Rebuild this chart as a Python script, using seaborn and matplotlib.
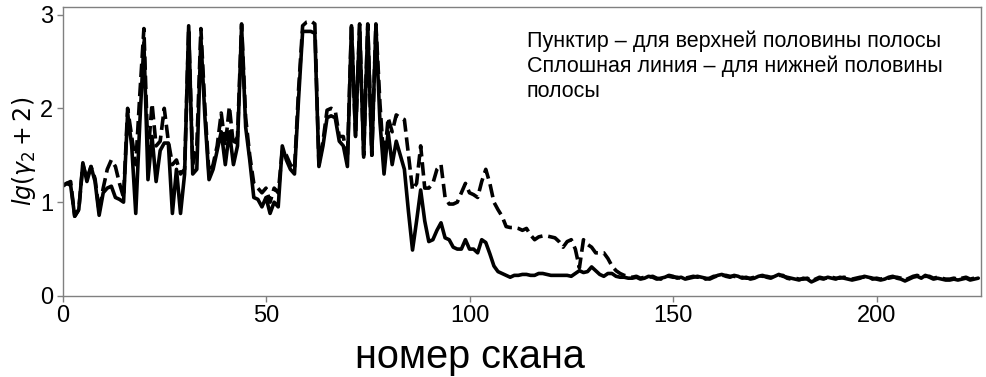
import matplotlib
matplotlib.use("Agg")
import matplotlib.pyplot as plt
import seaborn as sns
import pandas as pd

# lower half of the band (solid line)
lower_half = [
    1.17, 1.20, 1.18, 0.85, 0.92, 1.42, 1.22, 1.38, 1.22, 0.86,
    1.10, 1.15, 1.17, 1.05, 1.03, 1.00, 1.95, 1.60, 0.88, 1.85,
    2.70, 1.24, 1.70, 1.22, 1.55, 1.63, 1.63, 0.88, 1.35, 0.88,
    1.30, 2.88, 1.30, 1.35, 2.75, 1.90, 1.24, 1.35, 1.55, 1.75,
    1.40, 1.75, 1.40, 1.60, 2.88, 1.80, 1.45, 1.05, 1.03, 0.95,
    1.05, 0.88, 1.00, 0.95, 1.60, 1.45, 1.35, 1.30, 2.10, 2.82,
    2.82, 2.82, 2.80, 1.38, 1.60, 1.90, 1.92, 1.90, 1.65, 1.60,
    1.38, 2.88, 1.70, 2.88, 1.48, 2.88, 1.50, 2.88, 1.85, 1.30,
    1.75, 1.40, 1.65, 1.50, 1.35, 0.90, 0.49, 0.80, 1.13, 0.80,
    0.58, 0.60, 0.70, 0.78, 0.62, 0.60, 0.52, 0.50, 0.50, 0.60,
    0.50, 0.50, 0.46, 0.60, 0.57, 0.45, 0.32, 0.26, 0.24, 0.22,
    0.20, 0.22, 0.22, 0.23, 0.23, 0.22, 0.22, 0.24, 0.24, 0.23,
    0.22, 0.22, 0.22, 0.22, 0.22, 0.21, 0.24, 0.27, 0.25, 0.26,
    0.31, 0.27, 0.23, 0.21, 0.24, 0.24, 0.21, 0.20, 0.20, 0.19,
    0.19, 0.20, 0.18, 0.19, 0.21, 0.20, 0.18, 0.19, 0.20, 0.22,
    0.21, 0.19, 0.20, 0.18, 0.19, 0.20, 0.21, 0.20, 0.19, 0.18,
    0.20, 0.22, 0.23, 0.21, 0.20, 0.22, 0.21, 0.19, 0.20, 0.18,
    0.19, 0.21, 0.22, 0.20, 0.19, 0.21, 0.23, 0.21, 0.20, 0.19,
    0.18, 0.17, 0.19, 0.18, 0.15, 0.17, 0.19, 0.18, 0.20, 0.19,
    0.18, 0.20, 0.19, 0.18, 0.17, 0.18, 0.19, 0.21, 0.20, 0.19,
    0.18, 0.17, 0.18, 0.20, 0.21, 0.19, 0.18, 0.16, 0.18, 0.20,
    0.21, 0.19, 0.22, 0.20, 0.18, 0.19, 0.18, 0.17, 0.17, 0.18,
    0.17, 0.18, 0.19, 0.17, 0.18, 0.19,
]

# upper half of the band (dashed line)
upper_half = [
    1.17, 1.20, 1.22, 0.85, 0.92, 1.40, 1.25, 1.38, 1.25, 0.90,
    1.15, 1.35, 1.45, 1.38, 1.20, 1.05, 2.00, 1.70, 1.40, 2.15,
    2.85, 1.50, 2.05, 1.60, 1.65, 2.00, 1.65, 1.40, 1.45, 1.30,
    1.35, 2.85, 1.40, 1.60, 2.85, 2.00, 1.30, 1.40, 1.60, 1.95,
    1.60, 2.02, 1.60, 1.70, 2.90, 1.90, 1.50, 1.20, 1.15, 1.10,
    1.15, 1.00, 1.15, 1.10, 1.55, 1.50, 1.40, 1.35, 2.20, 2.88,
    2.92, 2.93, 2.90, 1.40, 1.65, 1.98, 2.00, 1.98, 1.70, 1.70,
    1.45, 2.90, 1.70, 2.90, 1.50, 2.90, 1.50, 2.90, 2.05, 1.40,
    1.90, 1.75, 1.93, 1.90, 1.88, 1.50, 1.13, 1.20, 1.60, 1.15,
    1.15, 1.20, 1.35, 1.40, 1.05, 0.98, 0.98, 1.00, 1.10, 1.20,
    1.10, 1.08, 1.05, 1.22, 1.35, 1.20, 1.00, 0.92, 0.85, 0.74,
    0.73, 0.73, 0.72, 0.70, 0.72, 0.65, 0.60, 0.63, 0.64, 0.64,
    0.63, 0.62, 0.58, 0.52, 0.58, 0.60, 0.50, 0.30, 0.60, 0.55,
    0.52, 0.46, 0.46, 0.46, 0.40, 0.32, 0.27, 0.24, 0.22, 0.21,
    0.20, 0.21, 0.19, 0.20, 0.20, 0.21, 0.19, 0.18, 0.21, 0.21,
    0.20, 0.20, 0.19, 0.19, 0.20, 0.21, 0.20, 0.21, 0.18, 0.19,
    0.21, 0.21, 0.22, 0.22, 0.21, 0.21, 0.20, 0.20, 0.19, 0.19,
    0.20, 0.22, 0.21, 0.21, 0.20, 0.20, 0.22, 0.22, 0.19, 0.18,
    0.19, 0.18, 0.18, 0.19, 0.16, 0.18, 0.20, 0.19, 0.19, 0.20,
    0.19, 0.19, 0.20, 0.19, 0.18, 0.19, 0.20, 0.20, 0.21, 0.18,
    0.19, 0.18, 0.19, 0.19, 0.20, 0.20, 0.19, 0.17, 0.19, 0.21,
    0.22, 0.20, 0.21, 0.21, 0.19, 0.20, 0.19, 0.18, 0.18, 0.19,
    0.18, 0.19, 0.20, 0.18, 0.19, 0.20,
]

x_ticks = [0, 50, 100, 150, 200]
y_ticks = [0, 1, 2, 3]
x_label = "номер скана"
y_label = r"$lg(\gamma_2 + 2)$"
note = ("Пунктир – для верхней половины полосы\n"
        "Сплошная линия – для нижней половины\n"
        "полосы")

sns.set_style("ticks")
plt.rcParams["font.family"] = ["Liberation Sans", "DejaVu Sans"]
plt.rcParams["mathtext.fontset"] = "dejavusans"
plt.rcParams["text.color"] = "black"
plt.rcParams["axes.labelcolor"] = "black"

n = min(len(lower_half), len(upper_half))
df = pd.DataFrame({
    "scan": list(range(n)),
    "lower": lower_half[:n],
    "upper": upper_half[:n],
})

fig = plt.figure(figsize=(9.86, 3.77), dpi=100)
ax = fig.add_axes([62.5 / 986, 81 / 377, 918.2 / 986, 289 / 377])

sns.lineplot(data=df, x="scan", y="lower", ax=ax, color="black", lw=2.6)
sns.lineplot(data=df, x="scan", y="upper", ax=ax, color="black", lw=2.6,
             linestyle="--")

ax.set_xlim(0, 225.6)
ax.set_ylim(0, 3.08)
ax.set_xticks(x_ticks)
ax.set_yticks(y_ticks)
ax.tick_params(labelsize=17, colors="#808080", labelcolor="black",
               length=4, width=1, pad=2.5)
for sp in ax.spines.values():
    sp.set_visible(True)
    sp.set_color("#808080")
    sp.set_linewidth(1)

ax.set_xlabel("")
ax.set_ylabel(y_label, fontsize=17, labelpad=2)

fig.text(470 / 986, 1 - 368 / 377, x_label, fontsize=28.5,
         ha="center", va="baseline", color="black")
fig.text(527 / 986, 1 - 30 / 377, note, fontsize=15.5, ha="left", va="top",
         linespacing=1.24, color="black")

fig.savefig("out.png", dpi=100)
